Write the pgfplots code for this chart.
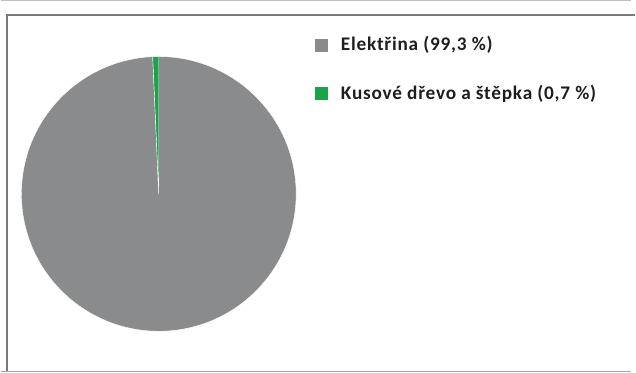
\documentclass[border=0pt]{standalone}
\usepackage{pgfplots}
\usepackage{pgfplotstable}
\pgfplotsset{compat=1.18}
\usepackage{fontspec}
\setmainfont{Carlito}
\newfontfamily\legendfont[LetterSpace=4]{Carlito}

\definecolor{elgray}{HTML}{8A8B8D}
\definecolor{woodgreen}{HTML}{1AA34A}
\definecolor{framegray}{HTML}{7A7A7A}
\definecolor{labeltext}{HTML}{1E1E1E}

% Shares of the energy sources (percent), in drawing order
\pgfplotstableread[col sep=comma]{
share,color
99.3,elgray
0.7,woodgreen
}\sharetable

% pie centre and radius (bp)
\def\pcx{159.5}
\def\pcy{180.5}
\def\prad{138.5}

\begin{document}
\begin{tikzpicture}
\begin{axis}[at={(0,0)}, anchor=south west,
  x=1bp, y=1bp,
  xmin=0, xmax=636, ymin=0, ymax=376,
  hide axis, clip=false]
% panel frame
\draw[line width=1.4bp, draw=framegray] (axis cs:6.5,1.8) -- (axis cs:6.5,361) -- (axis cs:640,361);
\draw[line width=1.2bp, draw=black!25] (axis cs:0,375.3) -- (axis cs:636,375.3);
\draw[line width=1.2bp, draw=black!35] (axis cs:0,1.5) -- (axis cs:636,1.5);
% pie slices, clockwise from twelve o'clock
\pgfplotstablegetrowsof{\sharetable}
\pgfmathtruncatemacro{\lastrow}{\pgfplotsretval-1}
\xdef\startangle{90}
\pgfplotsforeachungrouped \i in {0,...,\lastrow}{%
  \pgfplotstablegetelem{\i}{share}\of\sharetable \let\val\pgfplotsretval
  \pgfplotstablegetelem{\i}{color}\of\sharetable \let\col\pgfplotsretval
  \pgfmathsetmacro{\endangle}{\startangle - 3.6*\val}%
  \pgfmathsetmacro{\sx}{\pcx + \prad*cos(\startangle)}%
  \pgfmathsetmacro{\sy}{\pcy + \prad*sin(\startangle)}%
  \edef\slice{\noexpand\filldraw[fill=\col, draw=white, line width=0.4bp]
    (axis cs:\pcx,\pcy) -- (axis cs:\sx,\sy)
    arc[start angle=\startangle, end angle=\endangle, radius=\prad bp] -- cycle;}%
  \slice
  \xdef\startangle{\endangle}%
}
% legend
\fill[elgray] (axis cs:317,323.5) rectangle (axis cs:330,336.5);
\node[anchor=base west, inner sep=0pt, text=labeltext, font=\legendfont\fontsize{19.5}{23}\selectfont\bfseries]
  at (axis cs:343,325.5) {Elektřina (99,3 \%)};
\fill[woodgreen] (axis cs:317,275) rectangle (axis cs:330,288);
\node[anchor=base west, inner sep=0pt, text=labeltext, font=\legendfont\fontsize{19.5}{23}\selectfont\bfseries]
  at (axis cs:343,275.5) {Kusové dřevo a štěpka (0,7 \%)};
\end{axis}
\useasboundingbox (0,0) rectangle (636bp,376bp);
\end{tikzpicture}
\end{document}
